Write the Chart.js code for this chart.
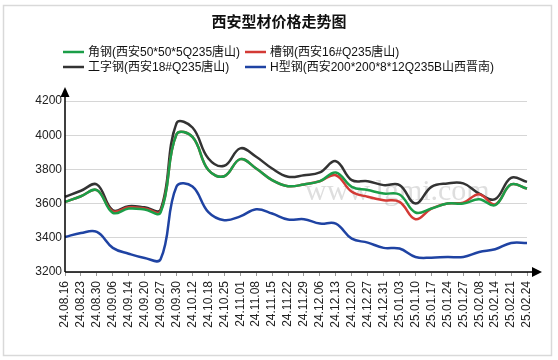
<!DOCTYPE html>
<html>
<head>
<meta charset="utf-8">
<script src="https://cdn.jsdelivr.net/npm/chart.js@4.4.1/dist/chart.umd.min.js"></script>
<style>
  body { margin: 0; background: #fff; }
  #wrap { width: 558px; height: 360px; position: relative; }
</style>
</head>
<body>
<div id="wrap"><canvas id="chart"></canvas></div>
<script>
// dates on the x axis
const labels = ['24.08.16','24.08.23','24.08.30','24.09.06','24.09.14','24.09.20','24.09.27','24.09.30',
  '24.10.12','24.10.18','24.10.25','24.11.01','24.11.08','24.11.15','24.11.22','24.11.29','24.12.06',
  '24.12.13','24.12.20','24.12.27','24.12.31','25.01.03','25.01.10','25.01.17','25.01.24','25.01.27',
  '25.02.08','25.02.14','25.02.21','25.02.24'];

// prices
const angleSteel = [3610,3643,3679,3546,3571,3565,3548,4005,3990,3796,3760,3860,3805,3737,3702,3712,3731,3782,3698,3679,3659,3653,3548,3571,3600,3600,3626,3591,3712,3688];
const channelSteel = [3610,3643,3679,3555,3578,3572,3556,4005,3990,3796,3760,3860,3805,3737,3702,3712,3731,3766,3669,3640,3620,3610,3509,3571,3600,3606,3655,3595,3712,3688];
const iBeam = [3640,3675,3712,3561,3585,3578,3565,4070,4045,3864,3821,3923,3874,3805,3757,3766,3782,3848,3737,3731,3708,3708,3600,3698,3718,3718,3659,3626,3751,3727];
const hBeam = [3405,3428,3434,3341,3307,3282,3274,3700,3700,3550,3503,3525,3567,3542,3507,3509,3483,3483,3395,3372,3341,3337,3288,3284,3288,3288,3317,3333,3370,3370];

const seriesNames = ['角钢(西安50*50*5Q235唐山)', '槽钢(西安16#Q235唐山)', '工字钢(西安18#Q235唐山)', 'H型钢(西安200*200*8*12Q235B山西晋南)'];
const seriesColors = ['#1b9e48', '#d33a35', '#333333', '#1f43a3'];
const yTicks = [3200, 3400, 3600, 3800, 4000, 4200];

const FONT = '"Liberation Sans", Arial, "Noto Sans CJK SC", sans-serif';
Chart.defaults.font.family = FONT;

// frame, title, legend, watermark and axis arrows
const decor = {
  id: 'decor',
  beforeDraw(chart) {
    const ctx = chart.ctx;
    ctx.save();
    ctx.fillStyle = '#fff';
    ctx.fillRect(0, 0, chart.width, chart.height);
    ctx.strokeStyle = '#d9d9d9';
    ctx.lineWidth = 1.5;
    ctx.strokeRect(3.5, 5.5, 548, 350);

    ctx.fillStyle = '#111';
    ctx.font = 'bold 15px "Noto Sans CJK SC", sans-serif';
    ctx.textAlign = 'center';
    ctx.textBaseline = 'middle';
    ctx.fillText('西安型材价格走势图', 279, 21);

    // legend, two columns
    const cols = [63, 245];
    const rows = [52, 67];
    ctx.font = '12px ' + FONT;
    ctx.textAlign = 'left';
    chart.data.datasets.forEach((ds, i) => {
      const x = cols[i % 2], y = rows[Math.floor(i / 2)];
      ctx.strokeStyle = ds.borderColor;
      ctx.lineWidth = 2.5;
      ctx.beginPath();
      ctx.moveTo(x, y);
      ctx.lineTo(x + 21, y);
      ctx.stroke();
      ctx.fillStyle = '#111';
      ctx.fillText(ds.label, x + 25, y + 1);
    });
    ctx.restore();
  },
  beforeDatasetsDraw(chart) {
    const ctx = chart.ctx;
    ctx.save();
    ctx.fillStyle = 'rgba(160,160,160,0.35)';
    ctx.font = '30px "Liberation Serif", serif';
    ctx.textBaseline = 'middle';
    ctx.fillText('www.lgmi.com', 305, 192);
    ctx.restore();
  },
  afterDraw(chart) {
    const ctx = chart.ctx;
    const a = chart.chartArea;
    ctx.save();
    ctx.strokeStyle = '#000';
    ctx.fillStyle = '#000';
    ctx.lineWidth = 1.5;
    ctx.beginPath();
    ctx.moveTo(a.left, a.bottom);
    ctx.lineTo(a.left, 94);
    ctx.moveTo(a.left, a.bottom);
    ctx.lineTo(534, a.bottom);
    ctx.stroke();
    ctx.beginPath();
    ctx.moveTo(a.left, 87);
    ctx.lineTo(a.left - 4.5, 97);
    ctx.lineTo(a.left + 4.5, 97);
    ctx.closePath();
    ctx.fill();
    ctx.beginPath();
    ctx.moveTo(542, a.bottom);
    ctx.lineTo(532, a.bottom - 5);
    ctx.lineTo(532, a.bottom + 5);
    ctx.closePath();
    ctx.fill();
    ctx.restore();
  }
};

const ctx = document.getElementById('chart').getContext('2d');
new Chart(ctx, {
  type: 'line',
  data: {
    labels: labels,
    datasets: [angleSteel, channelSteel, iBeam, hBeam].map((d, i) => ({
      label: seriesNames[i],
      data: d,
      borderColor: seriesColors[i],
      backgroundColor: seriesColors[i],
      borderWidth: 2.5,
      pointRadius: 0,
      tension: 0.4,
      fill: false
    }))
  },
  options: {
    responsive: true,
    maintainAspectRatio: false,
    animation: false,
    layout: { padding: { top: 101, right: 31, left: 0, bottom: 0 } },
    plugins: {
      legend: { display: false },
      title: { display: false },
      tooltip: { enabled: false }
    },
    scales: {
      x: {
        offset: false,
        afterFit: s => { s.height = 88; },
        border: { display: false },
        grid: { drawOnChartArea: false, drawTicks: true, tickLength: 4, color: '#999' },
        ticks: { autoSkip: false, minRotation: 90, maxRotation: 90, padding: 5,
                 color: '#222', font: { size: 12 } }
      },
      y: {
        min: 3200,
        max: 4200,
        afterFit: s => { s.width = 65; },
        afterBuildTicks: s => { s.ticks = yTicks.map(v => ({ value: v })); },
        border: { display: false },
        grid: { color: '#d6d6d6', drawTicks: false, lineWidth: 1 },
        ticks: { padding: 3, color: '#222', font: { size: 12 }, callback: v => String(v) }
      }
    }
  },
  plugins: [decor]
});
</script>
</body>
</html>
